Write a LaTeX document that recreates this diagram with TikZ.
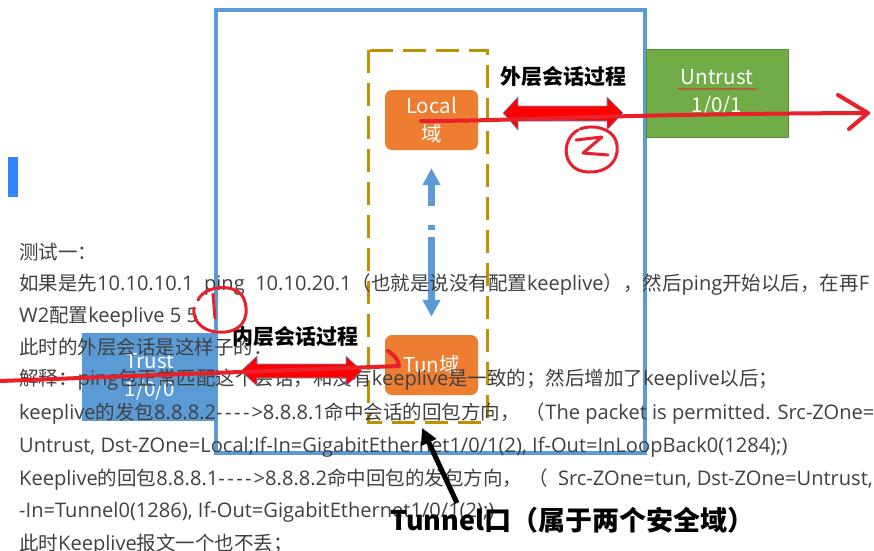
\documentclass[tikz,border=0pt]{standalone}
\usepackage{fontspec}
\setmainfont{Noto Sans CJK SC}
\newfontfamily\latf{Open Sans}[Scale=1.03]
\newcommand\latseg[1]{{\latf #1}}
\newcommand\dasharr{-\kern2.5pt-\kern2.5pt-\kern2.5pt-\kern2pt>}
\usetikzlibrary{arrows.meta,decorations.pathmorphing}
\definecolor{frameblue}{HTML}{5B9BD5}
\definecolor{zonegold}{HTML}{BF9000}
\definecolor{zoneorange}{HTML}{ED7D31}
\definecolor{zonegreen}{HTML}{70AD47}
\definecolor{inkred}{HTML}{E8202A}
\definecolor{blockred}{HTML}{FF0000}
\definecolor{bodygray}{HTML}{404040}
\definecolor{markblue}{HTML}{3385FF}
\tikzset{
  zonebox/.style={inner sep=0pt, text=white, align=center, font=\fontsize{20.5}{28.5}\selectfont},
  bodyline/.style={anchor=base west, inner sep=0pt, text=bodygray, font=\fontsize{19.5}{22}\selectfont},
  boldlbl/.style={inner sep=0pt, font=\bfseries\fontsize{21}{24}\selectfont},
  redink/.style={draw=inkred, line width=4pt, line cap=round, line join=round},
  blockarrow/.style={fill=blockred, draw=frameblue, line width=0.6pt},
}
\begin{document}
\begin{tikzpicture}[x=1pt,y=-1pt]
\useasboundingbox (0,0) rectangle (874,550);
\fill[white] (0,0) rectangle (874,550);
% left blue mark
\fill[markblue] (8,157) rectangle (18,197);
% frames
\draw[frameblue, line width=4pt] (216,10) rectangle (645,453);
\draw[zonegold, line width=3pt, dash pattern=on 23pt off 10pt] (368,50) rectangle (487,422);
% zones
\node[zonebox, fill=zonegreen, draw=zonegreen!80!black, line width=0.5pt, minimum width=142pt, minimum height=88pt] (untrust) at (717,93) {Untrust\\1/0/1};
\node[zonebox, fill=zoneorange, rounded corners=7pt, minimum width=93pt, minimum height=60pt] (local) at (431.5,120) {Local\\域};
\node[zonebox, fill=zoneorange, rounded corners=7pt, minimum width=93pt, minimum height=60pt] (tun) at (431.5,365) {Tun域};
\node[zonebox, fill=frameblue, minimum width=136pt, minimum height=88pt] (trust) at (150,377) {Trust\\1/0/0};
% spell-check underline
\draw[inkred, line width=0.6pt, decorate, decoration={snake, amplitude=0.8pt, segment length=3pt}] (678,89) -- (757,89);
% dash-dot arrow between Local and Tun
\draw[frameblue, line width=7pt, dash pattern=on 22pt off 19pt on 5pt off 7pt on 60pt off 0pt,
  {Triangle[length=17pt,width=17pt]}-{Triangle[length=17pt,width=17pt]},
  shorten <=18pt, shorten >=18pt] (local.south) -- (tun.north);
% body text
\begin{scope}
\clip (0,0) rectangle (874,550);
\node[bodyline] (l1) at (19,259) {测试一：};
\node[bodyline] (l2) at (19,290) {如果是先\latseg{10.10.10.1\ \ ping\ \ 10.10.20.1}（也就是说没有配置\latseg{keeplive}），然后\latseg{ping}开始以后，在再\latseg{F}};
\node[bodyline] (l3) at (19,322) {\latseg{W2}配置\latseg{keeplive 5 5}};
\node[bodyline] (l4) at (19,354) {此时的外层会话是这样子的：};
\node[bodyline] (l5) at (19,385) {解释：\latseg{ping}包正常匹配这个会话，和没有\latseg{keeplive}是一致的；然后增加了\latseg{keeplive}以后；};
\node[bodyline] (l6) at (19,419) {\latseg{keeplive}的发包\latseg{8.8.8.2\dasharr 8.8.8.1}命中会话的回包方向，\hspace{6pt}（\latseg{The packet is permitted. Src-ZOne=}};
\node[bodyline] (l7) at (19,452) {\latseg{Untrust, Dst-ZOne=Local;If-In=GigabitEthernet1/0/1(2), If-Out=InLoopBack0(1284);)}};
\node[bodyline] (l8) at (19,485) {\latseg{Keeplive}的回包\latseg{8.8.8.1\dasharr 8.8.8.2}命中回包的发包方向，\hspace{6pt}（\latseg{\ \ Src-ZOne=tun, Dst-ZOne=Untrust, If}};
\node[bodyline] (l9) at (19,517) {\latseg{-In=Tunnel0(1286), If-Out=GigabitEthernet1/0/1(2);)}};
\node[bodyline] (l10) at (19,550) {此时\latseg{Keeplive}报文一个也不丢；};
\end{scope}
% labels
\node[boldlbl] (outerlbl) at (563,77) {外层会话过程};
\node[boldlbl] (innerlbl) at (295,337) {内层会话过程};
% block double arrows
\filldraw[blockarrow] (503,113) -- (518,97) -- (518,106) -- (607,106) -- (607,97) -- (623,113)
  -- (607,130) -- (607,121) -- (518,121) -- (518,130) -- cycle;
\filldraw[blockarrow] (241,371) -- (257,356) -- (257,364) -- (346,364) -- (346,356) -- (362,371)
  -- (346,386) -- (346,378) -- (257,378) -- (257,386) -- cycle;
% hand-drawn red lines
\coordinate (outstart) at (421,121);
\coordinate (outend) at (868,113);
\coordinate (chevtop) at (838,95);
\coordinate (chevbot) at (849,129);
\draw[redink] (outstart) .. controls (520,121) and (600,114) .. (outend);
\draw[redink] (chevtop) -- (outend) -- (chevbot);
\coordinate (instart) at (0,381);
\coordinate (inend) at (399,366);
\coordinate (inhook) at (388,351);
\draw[redink] (instart) -- (inend) .. controls (397,358) .. (inhook);
% scribble 1
\draw[redink, line width=3pt] (198,300) .. controls (205,285) and (235,283) .. (243,297)
  .. controls (250,312) and (246,330) .. (225,332) .. controls (205,334) and (192,322) .. (194,308);
\draw[redink, line width=3pt] (213,294) -- (215,318);
% scribble 2
\draw[redink, line width=3pt] (578,130) .. controls (560,140) and (562,171) .. (588,172)
  .. controls (612,173) and (621,155) .. (616,141) .. controls (612,128) and (592,124) .. (580,129);
\draw[redink, line width=3pt] (576,140) -- (602,137) -- (583,153) -- (608,155);
% black pointer
\coordinate (ptail) at (457,503);
\coordinate (ptip) at (422,428);
\draw[black, line width=5pt, -{Triangle[length=16pt,width=16pt]}] (ptail) -- (ptip);
\node[anchor=west, inner sep=0pt, font=\bfseries\fontsize{27}{30}\selectfont] (tunlbl) at (390,520) {Tunnel口（属于两个安全域）};
\end{tikzpicture}
\end{document}
